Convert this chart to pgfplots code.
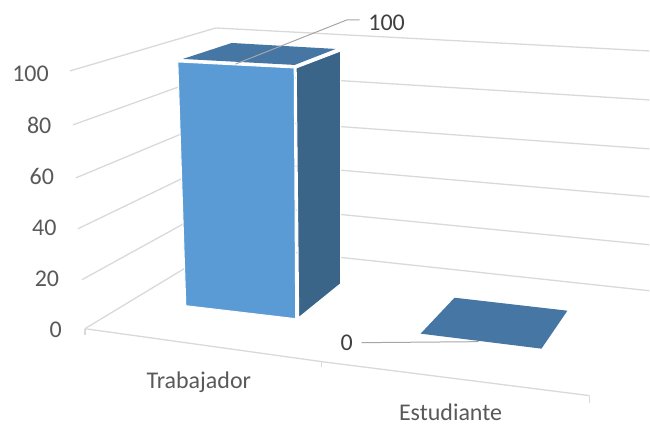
\documentclass[border=0pt]{standalone}
\usepackage{pgfplots}
\pgfplotsset{compat=1.18}
\usepackage{fontspec}
\setmainfont{Carlito}
\definecolor{gridc}{HTML}{D9D9D9}
\definecolor{txtc}{HTML}{595959}
\definecolor{lblc}{HTML}{404040}
\definecolor{leadc}{HTML}{A6A6A6}
\definecolor{frontc}{HTML}{5B9BD5}
\definecolor{sidec}{HTML}{3A6488}
\definecolor{topc}{HTML}{4676A3}
\newcommand{\chartfont}{\fontsize{24bp}{26bp}\selectfont}
\begin{document}
\begin{tikzpicture}
\begin{axis}[
    scale only axis,
    width=650bp, height=426bp,
    xmin=0, xmax=650,
    ymin=-37.89, ymax=128.52,
    clip=false,
    axis x line=none,
    axis y line*=left,
    y axis line style={draw=none},
    ytick={0,20,40,60,80,100},
    major tick length=0pt,
    tick style={draw=none},
    yticklabel style={anchor=east, text=txtc, inner sep=0pt,
        font=\chartfont,
        xshift={(62-2.6*\ticknum)*1bp}, yshift=-1bp,
        /pgf/number format/assume math mode=true},
]
% paredes: lineas de rejilla en perspectiva (izquierda, fondo, derecha)
\addplot[gridc, line width=1.3bp, mark=none] coordinates {(70,100.78) (216,117.58) (650,108.59)};
\addplot[gridc, line width=1.3bp, mark=none] coordinates {(73,79.69) (218,100) (650,89.45)};
\addplot[gridc, line width=1.3bp, mark=none] coordinates {(76,58.98) (220,82.42) (650,70.31)};
\addplot[gridc, line width=1.3bp, mark=none] coordinates {(78,39.06) (221,66.02) (650,51.56)};
\addplot[gridc, line width=1.3bp, mark=none] coordinates {(82,19.14) (222,49.22) (650,32.81)};
\addplot[gridc, line width=1.3bp, mark=none] coordinates {(85,0) (224,32.81) (650,14.84)};
% suelo y marcas
\addplot[gridc, line width=1.3bp, mark=none] coordinates {(85,0) (322,-12.89) (590,-26.17)};
\addplot[gridc, line width=1.3bp, mark=none] coordinates {(85,0) (85,-2.34)};
\addplot[gridc, line width=1.3bp, mark=none] coordinates {(322,-12.89) (322,-14.84)};
\addplot[gridc, line width=1.3bp, mark=none] coordinates {(590,-26.17) (590,-28.91)};
% Trabajador
\addplot[fill=frontc, draw=white, line width=1bp, mark=none] coordinates {(178,104.30) (294.5,101.95) (296,3.91) (186,8.98)} --cycle;
\addplot[fill=sidec, draw=white, line width=1bp, mark=none] coordinates {(296.5,101.95) (341,108.59) (341,17.58) (299,4.30)} --cycle;
\addplot[fill=topc, draw=none, mark=none] coordinates {(183,105.47) (232,111.72) (336,109.38) (295,103.13)} --cycle;
% Estudiante
\addplot[fill=topc, draw=none, mark=none] coordinates {(455,12.11) (568,7.03) (542,-7.81) (421,-1.95)} --cycle;
% lineas guia
\addplot[leadc, line width=1bp, mark=none] coordinates {(236,103.52) (347,120.70) (360,120.70)};
\addplot[leadc, line width=1bp, mark=none] coordinates {(362,-5.47) (479,-5.08)};
% etiquetas
\node[text=lblc, font=\chartfont, inner sep=0pt] at (axis cs:387,119.7) {100};
\node[text=lblc, font=\chartfont, inner sep=0pt] at (axis cs:347,-5.6) {0};
\node[text=txtc, font=\chartfont, inner sep=0pt] at (axis cs:199,-20.9) {Trabajador};
\node[text=txtc, font=\chartfont, inner sep=0pt] at (axis cs:451,-32.7) {Estudiante};
\end{axis}
\end{tikzpicture}
\end{document}
